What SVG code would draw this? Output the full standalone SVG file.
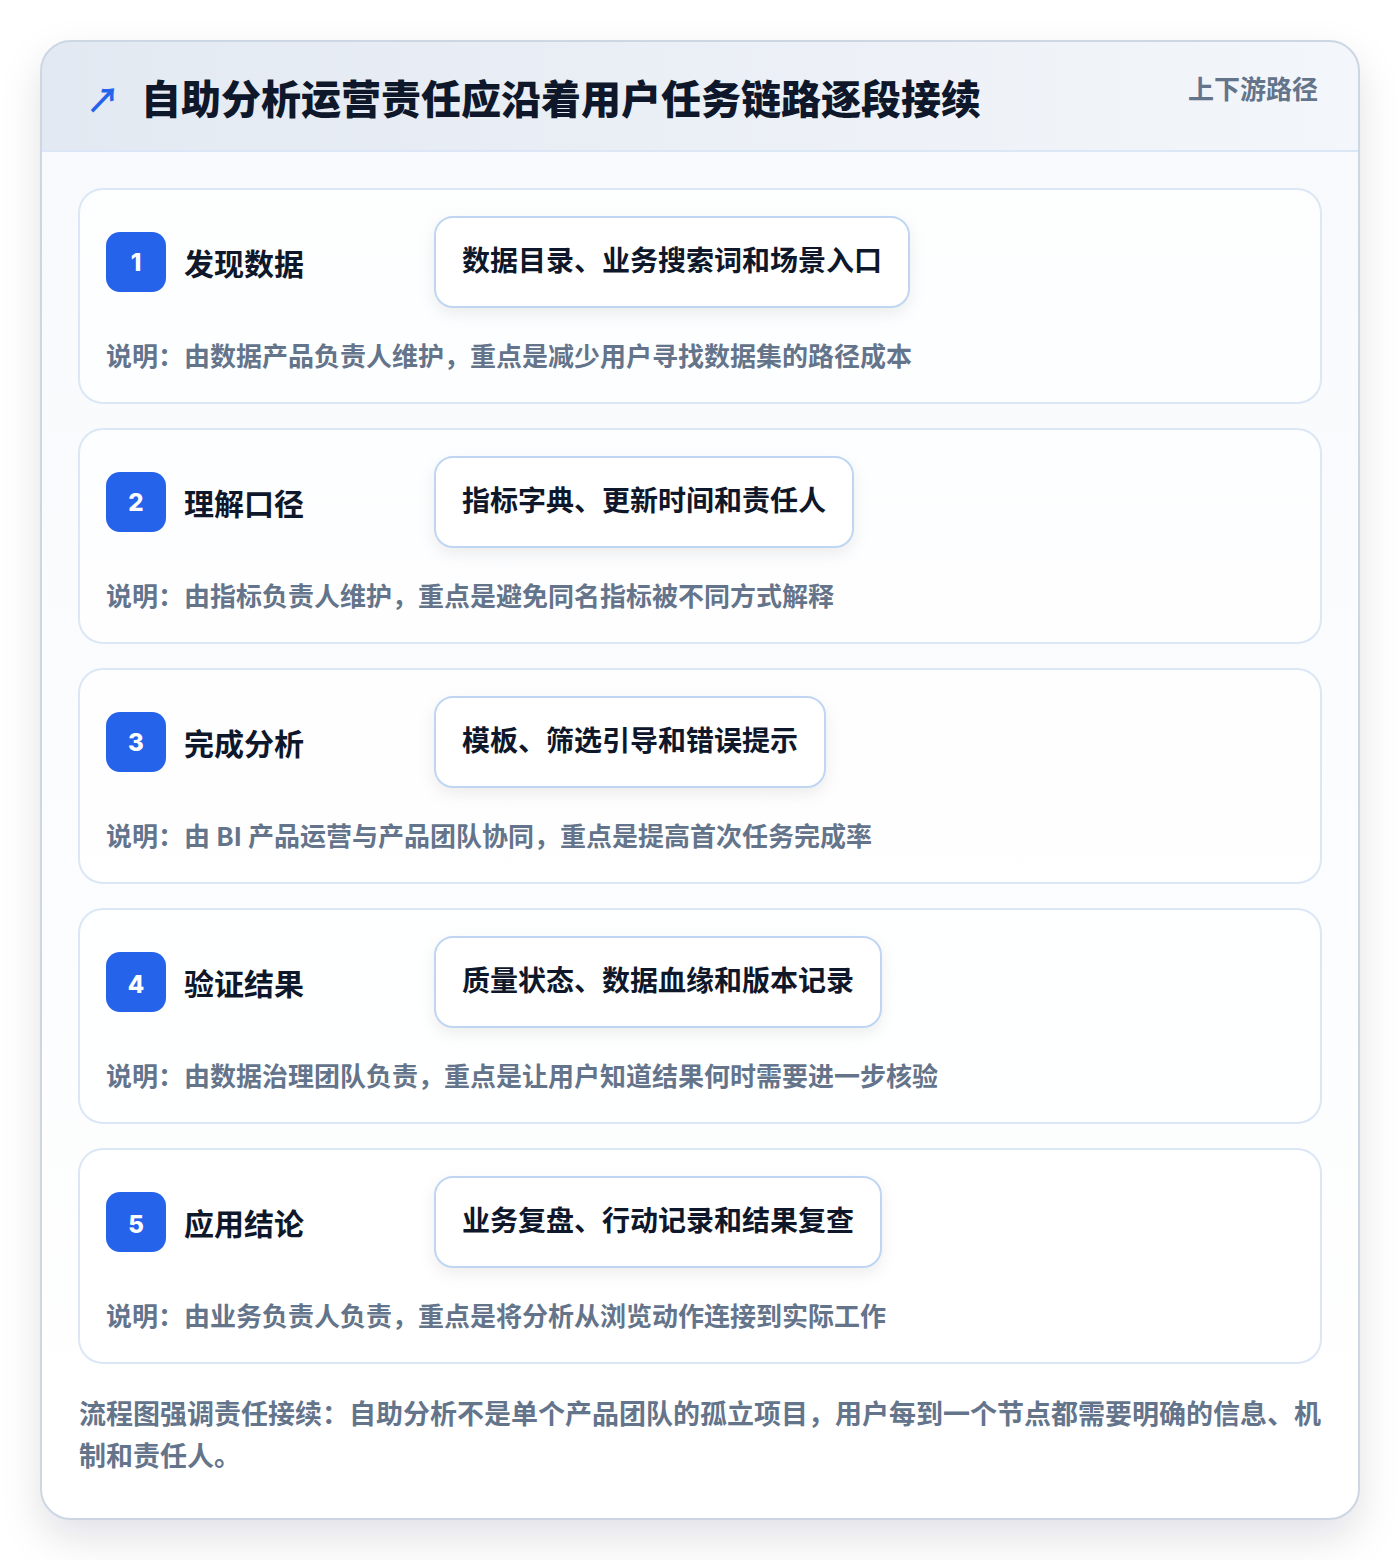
<svg xmlns="http://www.w3.org/2000/svg" width="1400" height="1560" viewBox="0 0 1400 1560">
<defs>
<linearGradient id="hdr" x1="0" y1="0" x2="1" y2="0"><stop offset="0" stop-color="#e3e9f2"/><stop offset="1" stop-color="#f3f6fa"/></linearGradient>
<linearGradient id="body" x1="0" y1="0" x2="0" y2="1"><stop offset="0" stop-color="#f7f9fc"/><stop offset="1" stop-color="#ffffff"/></linearGradient>
<filter id="cardShadow" x="-10%" y="-10%" width="120%" height="120%"><feDropShadow dx="0" dy="18" stdDeviation="20" flood-color="#0f172a" flood-opacity="0.12"/></filter>
<filter id="pillShadow" x="-10%" y="-30%" width="120%" height="170%"><feDropShadow dx="0" dy="6" stdDeviation="8" flood-color="#0f172a" flood-opacity="0.07"/></filter>
<clipPath id="outerClip"><rect x="41" y="41" width="1318" height="1478" rx="30"/></clipPath>
<style>
.t{font-family:"Noto Sans CJK SC","Noto Sans",sans-serif;font-weight:700}
.title{font-size:40px;fill:#0f172a;font-weight:800}
.tag{font-size:26px;fill:#64748b}
.step{fill:#ffffff;fill-opacity:0.7;stroke:#dbe7f6;stroke-width:2}
.badge{fill:#2563eb}
.num{font-size:24px;fill:#ffffff;font-family:Inter,"Noto Sans",sans-serif;font-weight:800}
.stitle{font-size:30px;fill:#0f172a}
.pill{fill:#ffffff;stroke:#bfd5f2;stroke-width:2}
.ptext{font-size:28px;fill:#0f172a}
.desc{font-size:26px;fill:#64748b}
.foot{font-size:27px;fill:#64748b}
</style>
</defs>
<rect width="1400" height="1560" fill="#ffffff"/>
<g id="card">
<rect x="41" y="41" width="1318" height="1478" rx="30" fill="url(#body)" filter="url(#cardShadow)"/>
<g clip-path="url(#outerClip)">
<rect x="41" y="41" width="1318" height="110" fill="url(#hdr)"/>
<line x1="41" y1="151" x2="1359" y2="151" stroke="#dbe7f6" stroke-width="2"/>
</g>
<rect x="41" y="41" width="1318" height="1478" rx="30" fill="none" stroke="#cdd6e3" stroke-width="2"/>
</g>
<g id="header">
<text class="t" x="86" y="113" font-size="34" fill="#2563eb">↗</text>
<text class="t title" x="141" y="114">自助分析运营责任应沿着用户任务链路逐段接续</text>
<text class="t tag" x="1318" y="99" text-anchor="end">上下游路径</text>
</g>
<g id="step1">
<rect class="step" x="79" y="189" width="1242" height="214" rx="24"/>
<rect class="badge" x="106" y="232" width="60" height="60" rx="14"/>
<text class="num" x="136" y="271" text-anchor="middle">1</text>
<text class="t stitle" x="184" y="275">发现数据</text>
<rect class="pill" x="435" y="217" width="474" height="90" rx="18" filter="url(#pillShadow)"/>
<text class="t ptext" x="462" y="271">数据目录、业务搜索词和场景入口</text>
<text class="t desc" x="106" y="366">说明：由数据产品负责人维护，重点是减少用户寻找数据集的路径成本</text>
</g>
<g id="step2">
<rect class="step" x="79" y="429" width="1242" height="214" rx="24"/>
<rect class="badge" x="106" y="472" width="60" height="60" rx="14"/>
<text class="num" x="136" y="511" text-anchor="middle">2</text>
<text class="t stitle" x="184" y="515">理解口径</text>
<rect class="pill" x="435" y="457" width="418" height="90" rx="18" filter="url(#pillShadow)"/>
<text class="t ptext" x="462" y="511">指标字典、更新时间和责任人</text>
<text class="t desc" x="106" y="606">说明：由指标负责人维护，重点是避免同名指标被不同方式解释</text>
</g>
<g id="step3">
<rect class="step" x="79" y="669" width="1242" height="214" rx="24"/>
<rect class="badge" x="106" y="712" width="60" height="60" rx="14"/>
<text class="num" x="136" y="751" text-anchor="middle">3</text>
<text class="t stitle" x="184" y="755">完成分析</text>
<rect class="pill" x="435" y="697" width="390" height="90" rx="18" filter="url(#pillShadow)"/>
<text class="t ptext" x="462" y="751">模板、筛选引导和错误提示</text>
<text class="t desc" x="106" y="846">说明：由 BI 产品运营与产品团队协同，重点是提高首次任务完成率</text>
</g>
<g id="step4">
<rect class="step" x="79" y="909" width="1242" height="214" rx="24"/>
<rect class="badge" x="106" y="952" width="60" height="60" rx="14"/>
<text class="num" x="136" y="993" text-anchor="middle">4</text>
<text class="t stitle" x="184" y="995">验证结果</text>
<rect class="pill" x="435" y="937" width="446" height="90" rx="18" filter="url(#pillShadow)"/>
<text class="t ptext" x="462" y="991">质量状态、数据血缘和版本记录</text>
<text class="t desc" x="106" y="1086">说明：由数据治理团队负责，重点是让用户知道结果何时需要进一步核验</text>
</g>
<g id="step5">
<rect class="step" x="79" y="1149" width="1242" height="214" rx="24"/>
<rect class="badge" x="106" y="1192" width="60" height="60" rx="14"/>
<text class="num" x="136" y="1233" text-anchor="middle">5</text>
<text class="t stitle" x="184" y="1235">应用结论</text>
<rect class="pill" x="435" y="1177" width="446" height="90" rx="18" filter="url(#pillShadow)"/>
<text class="t ptext" x="462" y="1231">业务复盘、行动记录和结果复查</text>
<text class="t desc" x="106" y="1326">说明：由业务负责人负责，重点是将分析从浏览动作连接到实际工作</text>
</g>
<g id="connectors"></g>
<g id="footer">
<text class="t foot" x="79" y="1424">流程图强调责任接续：自助分析不是单个产品团队的孤立项目，用户每到一个节点都需要明确的信息、机</text>
<text class="t foot" x="79" y="1466">制和责任人。</text>
</g>
</svg>
